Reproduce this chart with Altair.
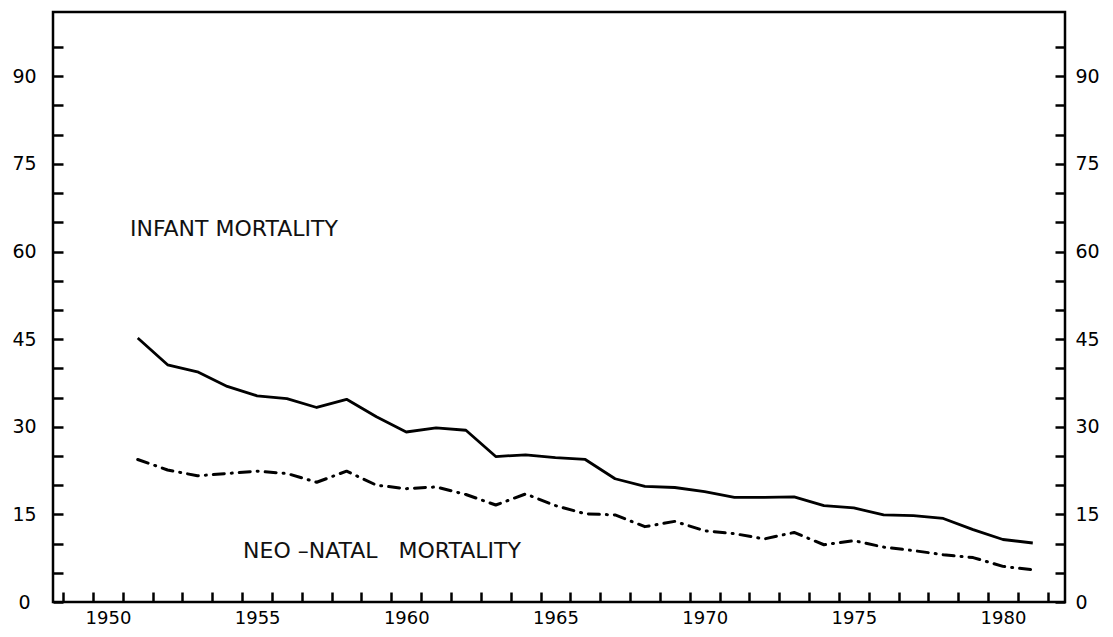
import altair as alt
import pandas as pd

years = list(range(1951, 1982))
infant = [45.2, 40.6, 39.4, 36.9, 35.3, 34.8, 33.3, 34.7, 31.7, 29.1,
          29.8, 29.4, 24.9, 25.2, 24.7, 24.4, 21.1, 19.8, 19.6, 18.9,
          17.9, 17.9, 18.0, 16.5, 16.1, 14.9, 14.8, 14.3, 12.4, 10.7, 10.1]
neonatal = [24.4, 22.6, 21.6, 22.0, 22.4, 22.0, 20.5, 22.4, 20.0, 19.4,
            19.7, 18.4, 16.6, 18.5, 16.5, 15.1, 14.9, 12.9, 13.8, 12.2,
            11.7, 10.8, 11.9, 9.8, 10.5, 9.4, 8.8, 8.1, 7.6, 6.1, 5.5]

x_ticks = list(range(1949, 1983))
y_ticks = list(range(0, 100, 5))

ann_text = ["INFANT MORTALITY", "NEO \u2013NATAL\u00a0\u00a0 MORTALITY"]
ann_year = [1951.24, 1955.03]
ann_value = [63.9, 8.7]

X_DOMAIN = [1948.66, 1982.58]
Y_DOMAIN = [0, 101]
FONT = "DejaVu Sans"

df = pd.DataFrame({
    "year": years * 2,
    "value": infant + neonatal,
    "series": ["infant"] * len(years) + ["neonatal"] * len(years),
})
ann = pd.DataFrame({"text": ann_text, "year": ann_year, "value": ann_value})

xscale = alt.Scale(domain=X_DOMAIN, nice=False, zero=False)

x_axis = alt.Axis(
    values=x_ticks, tickSize=10, tickWidth=2.5, tickColor="black",
    offset=-10, domain=False, grid=False, title=None,
    labelExpr="datum.value % 5 === 0 ? '' + datum.value : ''",
    labelOffset=15, labelPadding=7, labelFont=FONT, labelFontSize=18,
    labelColor="black", labelFlush=False, labelOverlap=False,
)


def yscale():
    return alt.Scale(domain=Y_DOMAIN, nice=False, zero=False)


def y_axis(orient, align, pad):
    return alt.Axis(
        orient=orient, values=y_ticks, tickSize=10, tickWidth=2.5,
        tickColor="black", offset=-10, domain=False, grid=False, title=None,
        labelExpr="datum.value % 15 === 0 ? datum.label : ''",
        labelAlign=align, labelPadding=pad, labelFont=FONT,
        labelFontSize=19, labelColor="black", labelBaseline="middle",
        labelOverlap=False, labelFlush=False,
    )


base = alt.Chart(df).transform_calculate(xpos="datum.year + 0.5")

infant_line = base.transform_filter(alt.datum.series == "infant").mark_line(
    color="black", strokeWidth=2.8, strokeJoin="round"
).encode(
    x=alt.X("xpos:Q", scale=xscale, axis=x_axis),
    y=alt.Y("value:Q", scale=yscale(), axis=y_axis("left", "center", 29)),
)

neo_line = base.transform_filter(alt.datum.series == "neonatal").mark_line(
    color="black", strokeWidth=3, strokeDash=[11, 7, 1, 7], strokeCap="round",
    strokeJoin="round"
).encode(
    x=alt.X("xpos:Q", scale=xscale, axis=x_axis),
    y=alt.Y("value:Q", scale=yscale(), axis=y_axis("right", "left", 10)),
)

texts = alt.Chart(ann).mark_text(
    align="left", baseline="middle", font=FONT, fontSize=22, color="#111"
).encode(
    x=alt.X("year:Q", scale=xscale, axis=x_axis),
    y=alt.Y("value:Q", scale=yscale(), axis=None),
    text="text:N",
)

chart = alt.layer(infant_line, neo_line, texts).resolve_scale(
    y="independent"
).properties(
    width=1012, height=590,
    autosize=alt.AutoSizeParams(type="none"),
    padding={"left": 45, "top": 4, "right": 40, "bottom": 24},
    background="white",
).configure_view(
    stroke="black", strokeWidth=2.5
)

chart.save("out.html", embed_options={"renderer": "svg", "actions": False})
